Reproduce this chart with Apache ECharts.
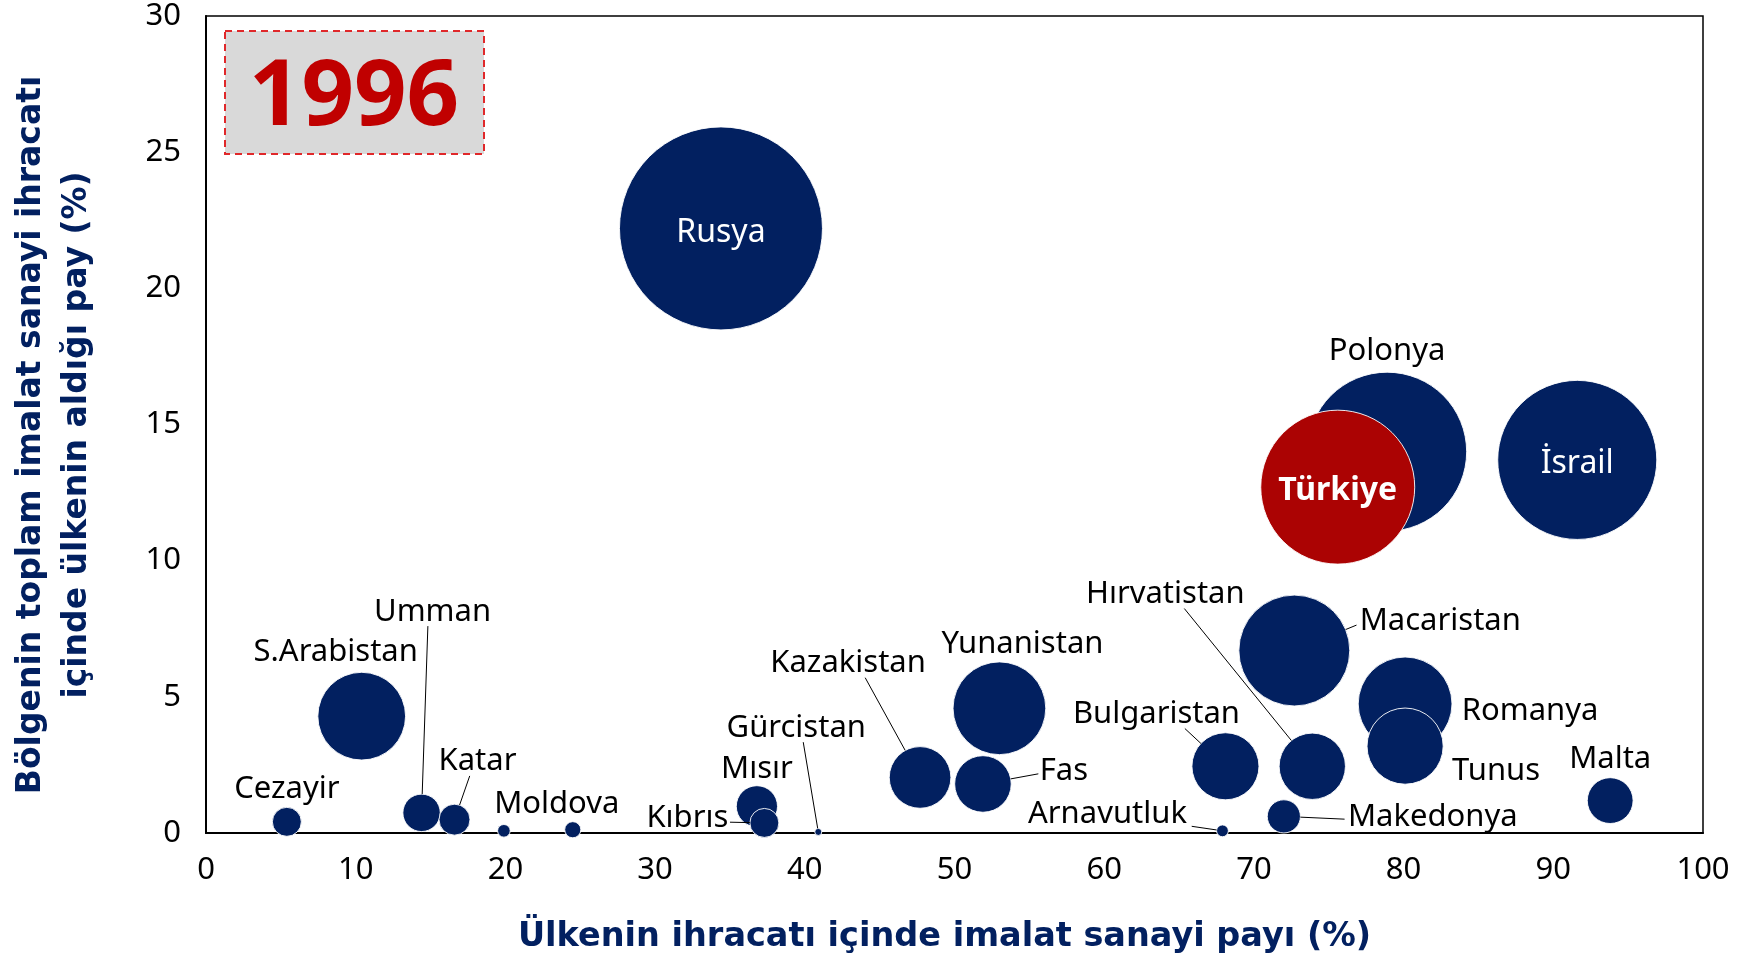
<!DOCTYPE html>
<html>
<head>
<meta charset="utf-8">
<script src="https://cdn.jsdelivr.net/npm/echarts@6/dist/echarts.min.js"></script>
<style>
html,body{margin:0;padding:0;background:#fff;}
#chart{width:1746px;height:960px;}
</style>
</head>
<body>
<div id="chart"></div>
<script>
// ---- Data ----
const ulkeler = ['Rusya','Polonya','Türkiye','İsrail','Macaristan','Romanya','Tunus','Yunanistan','S.Arabistan',
  'Bulgaristan','Hırvatistan','Kazakistan','Fas','Malta','Mısır','Kıbrıs','Umman','Makedonya','Katar','Cezayir',
  'Moldova','','Arnavutluk','Gürcistan'];
// Ülkenin ihracatı içinde imalat sanayi payı (%)
const imalatPayi = [34.4, 78.9, 75.6, 91.6, 72.7, 80.1, 80.1, 53.0, 10.4,
  68.1, 73.9, 47.7, 51.9, 93.8, 36.8, 37.3, 14.4, 72.0, 16.6, 5.4,
  24.5, 19.9, 67.9, 40.9];
// Bölgenin toplam imalat sanayi ihracatı içinde ülkenin aldığı pay (%)
const bolgePayi = [22.2, 14.0, 12.7, 13.7, 6.7, 4.74, 3.19, 4.58, 4.29,
  2.45, 2.45, 2.04, 1.8, 1.19, 0.98, 0.37, 0.74, 0.61, 0.49, 0.41,
  0.12, 0.08, 0.08, 0.04];
// Balon büyüklüğü (göreli ihracat hacmi)
const hacim = [412, 253, 237, 253, 123, 88, 58, 86, 77,
  45, 44, 38, 32, 21, 17, 8.4, 14, 11, 9.6, 8.4,
  2.6, 1.6, 1.4, 0.5];
const xTicks = [0,10,20,30,40,50,60,70,80,90,100];
const yTicks = [0,5,10,15,20,25,30];

// ---- Styles / label placement ----
const NAVY = '#022060';
const RED = '#ab0303';
const FONT = "'Noto Sans',sans-serif";
const LABEL_SIZE = 31;
const LABEL_SHIFT = 4;
const insideLabels = {'Rusya':{fontWeight:'normal'}, 'İsrail':{fontWeight:'normal'}, 'Türkiye':{fontWeight:'bold'}};
// label offset from bubble centre [dx, dy] in px, and leader-line anchor on the label box (fractions) or null
const labelPlace = {
  'Polonya':[0,-105,null], 'S.Arabistan':[-26,-68,null], 'Cezayir':[0,-37,null],
  'Umman':[11,-205,[0.46,0.9]], 'Katar':[23,-62,[0.4,0.9]], 'Moldova':[-16,-30,null],
  'Kıbrıs':[-77,-9,[1.02,0.62]], 'Mısır':[0,-41,null], 'Gürcistan':[-22,-108,[0.55,0.9]],
  'Kazakistan':[-72,-118,[0.61,0.9]], 'Yunanistan':[23,-68,null], 'Fas':[81,-17,[-0.03,0.58]],
  'Bulgaristan':[-69,-56,[0.67,0.9]], 'Hırvatistan':[-147,-176,[0.62,0.9]], 'Macaristan':[146,-33,[-0.02,0.6]],
  'Romanya':[125,3,null], 'Tunus':[91,21,null], 'Malta':[0,-45,null],
  'Makedonya':[149,-3,[-0.02,0.55]], 'Arnavutluk':[-115,-21,[1.03,0.85]]
};

const data = ulkeler.map((n, i) => {
  const item = {name: n, value: [imalatPayi[i], bolgePayi[i], hacim[i]]};
  if (n === 'Türkiye') item.itemStyle = {color: RED};
  if (insideLabels[n]) {
    item.label = {show: true, position: 'inside', formatter: '{b}', color: '#fff', fontSize: 32,
      fontFamily: FONT, fontWeight: insideLabels[n].fontWeight};
  } else if (labelPlace[n]) {
    item.label = {show: true, position: 'inside', formatter: '{b}', color: '#000', fontSize: LABEL_SIZE, fontFamily: FONT};
  } else {
    item.label = {show: false};
  }
  return item;
});
const sizeOf = v => 10 * Math.sqrt(v);

const chart = echarts.init(document.getElementById('chart'), null, {renderer: 'canvas'});
const staticGraphics = [
  {type: 'text', x: 54, y: 435, rotation: Math.PI/2,
    style: {text: 'Bölgenin toplam imalat sanayi ihracatı\niçinde ülkenin aldığı pay (%)',
      fill: NAVY, font: "bold 33px 'DejaVu Sans',sans-serif", lineHeight: 46, align: 'center', verticalAlign: 'middle'}},
  {type: 'rect', shape: {x: 225, y: 31, width: 259, height: 123},
    style: {fill: '#d9d9d9', stroke: '#e0282a', lineWidth: 2, lineDash: [7, 5]}},
  {type: 'text', x: 354, y: 99,
    style: {text: '1996', fill: '#c00000', font: "bold 92px 'Noto Sans',sans-serif", align: 'center', verticalAlign: 'middle'}}
];
chart.setOption({
  backgroundColor: '#fff',
  animation: false,
  grid: {left: 206, right: 43, top: 16, bottom: 127, outerBoundsMode: 'none', containLabel: false,
    show: true, borderColor: '#000', borderWidth: 1.5, backgroundColor: 'transparent'},
  xAxis: {
    type: 'value', min: xTicks[0], max: xTicks[xTicks.length-1], interval: 10,
    axisLine: {show: true, lineStyle: {color: '#000', width: 2}},
    axisTick: {show: false}, splitLine: {show: false},
    axisLabel: {color: '#000', fontSize: 31, fontFamily: FONT, margin: 22},
    name: 'Ülkenin ihracatı içinde imalat sanayi payı (%)',
    nameLocation: 'middle', nameGap: 87,
    nameTextStyle: {color: NAVY, fontSize: 33.5, fontWeight: 'bold', fontFamily: "'DejaVu Sans',sans-serif", lineHeight: 34, padding: [0, 20, 0, 0]}
  },
  yAxis: {
    type: 'value', min: yTicks[0], max: yTicks[yTicks.length-1], interval: 5,
    axisLine: {show: true, lineStyle: {color: '#000', width: 2}},
    axisTick: {show: false}, splitLine: {show: false},
    axisLabel: {color: '#000', fontSize: 31, fontFamily: FONT, margin: 25, padding: [8, 0, 0, 0]}
  },
  graphic: staticGraphics,
  series: [{
    type: 'scatter',
    data: data,
    symbolSize: v => sizeOf(v[2]),
    itemStyle: {color: NAVY, borderColor: 'rgba(255,255,255,0.9)', borderWidth: 1, opacity: 1},
    labelLayout: function (params) {
      const p = labelPlace[ulkeler[params.dataIndex]];
      return p ? {dx: p[0], dy: p[1] + LABEL_SHIFT} : {dy: LABEL_SHIFT};
    },
    emphasis: {disabled: true}
  }]
});

// Leader lines: from the bubble edge (via the chart's own scales) to the moved label
const ctx = document.createElement('canvas').getContext('2d');
ctx.font = LABEL_SIZE + "px 'Noto Sans',sans-serif";
const leaderLines = [];
ulkeler.forEach((n, i) => {
  const p = labelPlace[n];
  if (!p || !p[2]) return;
  const c = chart.convertToPixel({seriesIndex: 0}, [imalatPayi[i], bolgePayi[i]]);
  const rad = sizeOf(hacim[i]) / 2;
  const w = ctx.measureText(n).width, h = LABEL_SIZE * 1.15;
  const ax = c[0] + p[0] + (p[2][0] - 0.5) * w;
  const ay = c[1] + p[1] + LABEL_SHIFT + (p[2][1] - 0.5) * h;
  const d = Math.hypot(ax - c[0], ay - c[1]) || 1;
  const ex = c[0] + (ax - c[0]) / d * rad, ey = c[1] + (ay - c[1]) / d * rad;
  leaderLines.push({type: 'line', z: 10, silent: true,
    shape: {x1: ex, y1: ey, x2: ax, y2: ay}, style: {stroke: '#000', lineWidth: 1}});
});
chart.setOption({graphic: staticGraphics.concat(leaderLines)});
</script>
</body>
</html>
